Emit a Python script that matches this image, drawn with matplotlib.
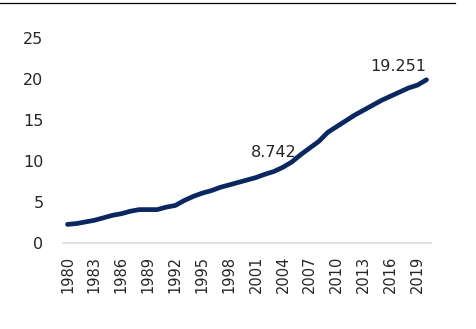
import matplotlib.pyplot as plt
from matplotlib.lines import Line2D

# dati
years = list(range(1980, 2021))
values = [2.3, 2.4, 2.6, 2.8, 3.1, 3.4, 3.6, 3.9, 4.1, 4.1,
          4.1, 4.4, 4.6, 5.2, 5.7, 6.1, 6.4, 6.8, 7.1, 7.4,
          7.7, 8.0, 8.4, 8.742, 9.25, 9.9, 10.8, 11.6, 12.4, 13.5,
          14.2, 14.9, 15.6, 16.2, 16.8, 17.4, 17.9, 18.4, 18.9, 19.251,
          19.9]
tick_years = list(range(1980, 2021, 3))
label_years = [2003, 2019]
label_texts = ["8.742", "19.251"]

plt.rcParams['font.family'] = ['DejaVu Sans']

fig = plt.figure(figsize=(4.76, 3.29), dpi=100)
ax = fig.add_axes([0.1324, 0.2605, 0.773, 0.6245])

ax.plot(years, values, color='#0A2760', lw=3.4, solid_capstyle='round')

ax.set_xlim(1979.5, 2020.5)
ax.set_ylim(0, 25)
ax.set_yticks([0, 5, 10, 15, 20, 25])
ax.set_xticks(tick_years)
ax.set_xticklabels([str(y) for y in tick_years], rotation=90, fontsize=10.5, color='#262626')
ax.tick_params(axis='y', labelsize=11.5, colors='#262626', length=0, pad=14)
ax.tick_params(axis='x', length=0, pad=9)

for s in ['top', 'right', 'left']:
    ax.spines[s].set_visible(False)
ax.spines['bottom'].set_color('#D9D9D9')
ax.spines['bottom'].set_linewidth(1.2)

# etichette dei dati
offsets = {2003: (0, 19), 2019: (-19, 19)}
for yr, txt in zip(label_years, label_texts):
    v = values[years.index(yr)]
    ax.annotate(txt, (yr, v), xytext=offsets[yr], textcoords='offset pixels',
                ha='center', va='center', fontsize=11.5, color='#262626')

# linea in alto
fig.add_artist(Line2D([0, 455 / 476], [1 - 3 / 329, 1 - 3 / 329],
                      color='black', lw=0.9, transform=fig.transFigure))

fig.savefig('out.png', dpi=100)
